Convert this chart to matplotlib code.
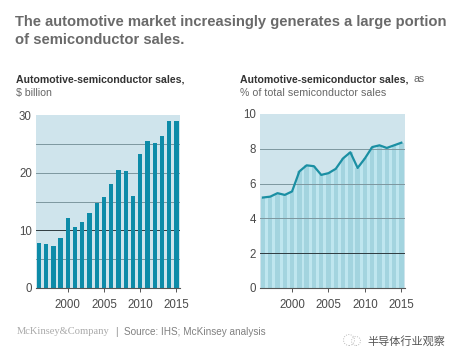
#!/usr/bin/env python3
import matplotlib
matplotlib.use("Agg")
import matplotlib.pyplot as plt
from matplotlib.patches import Circle

YEARS = list(range(1996, 2016))
SALES = [7.8, 7.6, 7.3, 8.6, 12.2, 10.5, 11.4, 13.0, 14.8, 15.7,
         18.0, 20.4, 20.3, 16.0, 23.2, 25.5, 25.2, 26.3, 29.0, 29.0]
SHARE = [5.2, 5.25, 5.45, 5.35, 5.55, 6.7, 7.05, 7.0, 6.5, 6.6,
         6.85, 7.45, 7.8, 6.9, 7.45, 8.1, 8.2, 8.05, 8.2, 8.35]
X_TICKS = [2000, 2005, 2010, 2015]
SALES_TICKS = [0, 10, 20, 30]
SALES_GRID = [5, 10, 15, 20, 25]
SHARE_TICKS = [0, 2, 4, 6, 8, 10]
SHARE_GRID = [2, 4, 6, 8]

W, H = 458, 361
BG = "#cfe4ec"
TEAL = "#0d8ba8"
LINE = "#1b8fa3"
TEXT = "#4a4a4a"
GRID = "#7d979f"
GRID_DARK = "#2f3b40"

plt.rcParams["font.family"] = ["Liberation Sans", "DejaVu Sans"]


def make_axes(fig, left, right, top, bottom):
    ax = fig.add_axes([left / W, 1 - bottom / H, (right - left) / W, (bottom - top) / H])
    ax.set_facecolor(BG)
    for s in ["top", "right", "left"]:
        ax.spines[s].set_visible(False)
    ax.spines["bottom"].set_color("#555555")
    ax.spines["bottom"].set_linewidth(0.8)
    ax.set_xlim(1995.6, 2015.5)
    ax.set_xticks(X_TICKS)
    ax.tick_params(axis="x", length=3, width=0.7, color="#555555", labelsize=8.3,
                   labelcolor=TEXT, pad=5)
    ax.tick_params(axis="y", length=0, labelsize=8.3, labelcolor=TEXT, pad=3)
    return ax


fig = plt.figure(figsize=(W / 100, H / 100), dpi=100, facecolor="white")

fig.text(15 / W, 1 - 22 / H, "The automotive market increasingly generates a large portion",
         fontsize=10.6, fontweight="bold", color="#6a6a6a", va="center")
fig.text(15 / W, 1 - 40 / H, "of semiconductor sales.",
         fontsize=10.6, fontweight="bold", color="#6a6a6a", va="center")

# left panel
ax1 = make_axes(fig, 36, 180, 115, 288)
ax1.set_ylim(0, 30)
ax1.set_yticks(SALES_TICKS)
ax1.bar(YEARS, SALES, width=0.6, color=TEAL, zorder=2)
for y in SALES_GRID:
    ax1.axhline(y, color=GRID_DARK if y == 10 else GRID, lw=0.7, zorder=1)
fig.text(16 / W, 1 - 79 / H, "Automotive-semiconductor sales,", fontsize=7.6,
         fontweight="bold", color="#333333", va="center")
fig.text(16 / W, 1 - 93 / H, "$ billion", fontsize=7.6, color="#666666", va="center")

# right panel
ax2 = make_axes(fig, 260, 405, 114, 288)
ax2.set_ylim(0, 10)
ax2.set_yticks(SHARE_TICKS)
ax2.fill_between(YEARS, SHARE, 0, color="#bfe6ef", lw=0, zorder=1)
ax2.bar(YEARS, SHARE, width=0.6, color="#a3d4df", zorder=1.5)
for y in SHARE_GRID:
    ax2.axhline(y, color=GRID_DARK if y == 2 else GRID, lw=0.7, zorder=2)
ax2.plot(YEARS, SHARE, color=LINE, lw=1.6, zorder=3)
fig.text(240 / W, 1 - 79 / H, "Automotive-semiconductor sales,", fontsize=7.6,
         fontweight="bold", color="#333333", va="center")
fig.text(413 / W, 1 - 79 / H, "as", fontsize=7.6, color="#666666", va="center")
fig.text(240 / W, 1 - 93 / H, "% of total semiconductor sales", fontsize=7.7,
         color="#666666", va="center")

# footer
fig.text(17 / W, 1 - 332 / H, "McKinsey&Company", family=["Liberation Serif"], fontsize=7.6,
         color="#aaaaaa", va="center")
fig.text(115 / W, 1 - 332 / H, "|", fontsize=7.6, color="#999999", va="center")
fig.text(124 / W, 1 - 332 / H, "Source: IHS; McKinsey analysis", fontsize=7.2,
         color="#808080", va="center")

# watermark
for cx, cy, r in [(349, 340, 5.5), (356, 341, 4.5)]:
    fig.add_artist(Circle((cx, H - cy), r, transform=None, fill=False, ec="#bbbbbb",
                          lw=0.7, ls=(0, (1, 1.5))))
fig.text(367 / W, 1 - 341 / H, "半导体行业观察", family=["Noto Sans CJK SC", "DejaVu Sans"],
         fontsize=8, color="#555555", va="center")

fig.savefig("out.png", dpi=100)
plt.close(fig)
